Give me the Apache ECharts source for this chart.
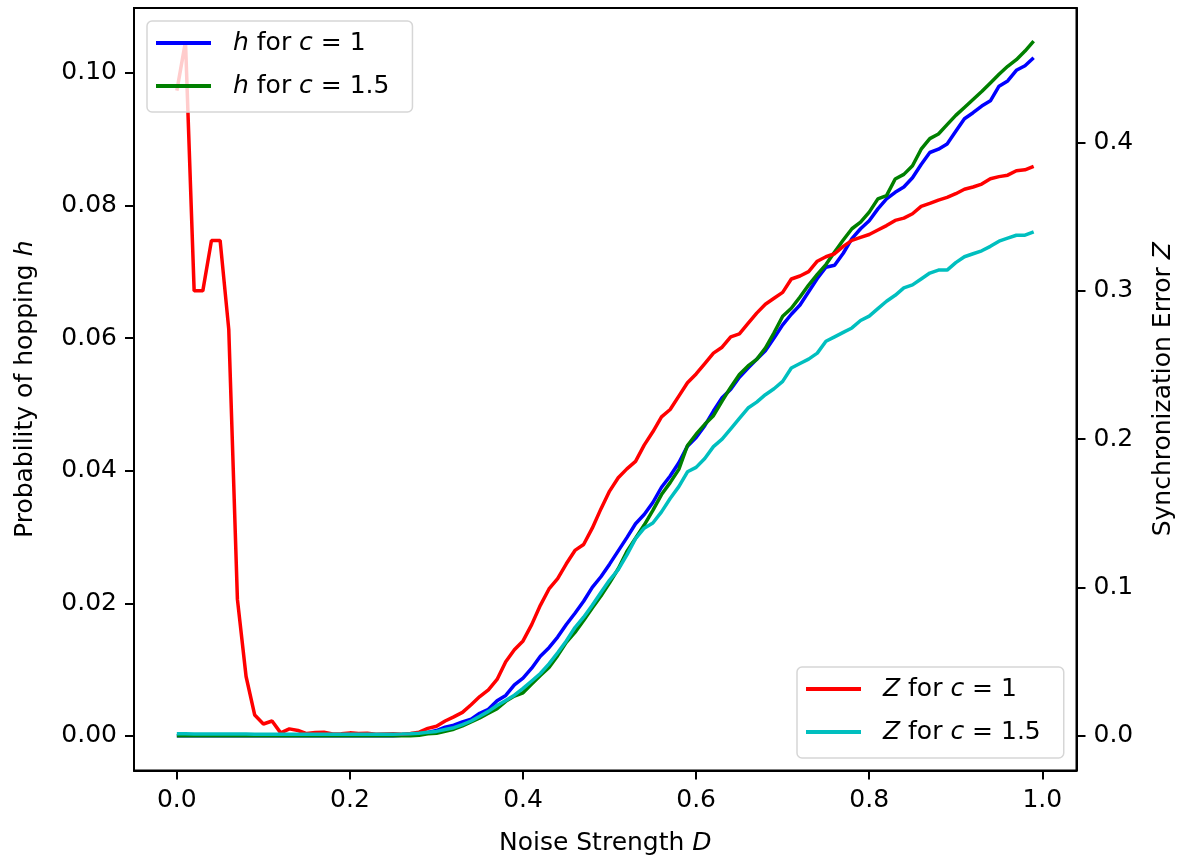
<!DOCTYPE html>
<html>
<head>
<meta charset="utf-8">
<script src="https://cdn.jsdelivr.net/npm/echarts@6/dist/echarts.min.js"></script>
<style>html,body{margin:0;padding:0;background:#fff;}#chart{width:1184px;height:861px;}</style>
</head>
<body>
<div id="chart"></div>
<script>
// Noise strength D (x values)
const noiseD = [0.00,0.01,0.02,0.03,0.04,0.05,0.06,0.07,0.08,0.09,
0.10,0.11,0.12,0.13,0.14,0.15,0.16,0.17,0.18,0.19,
0.20,0.21,0.22,0.23,0.24,0.25,0.26,0.27,0.28,0.29,
0.30,0.31,0.32,0.33,0.34,0.35,0.36,0.37,0.38,0.39,
0.40,0.41,0.42,0.43,0.44,0.45,0.46,0.47,0.48,0.49,
0.50,0.51,0.52,0.53,0.54,0.55,0.56,0.57,0.58,0.59,
0.60,0.61,0.62,0.63,0.64,0.65,0.66,0.67,0.68,0.69,
0.70,0.71,0.72,0.73,0.74,0.75,0.76,0.77,0.78,0.79,
0.80,0.81,0.82,0.83,0.84,0.85,0.86,0.87,0.88,0.89,
0.90,0.91,0.92,0.93,0.94,0.95,0.96,0.97,0.98,0.99];

// Probability of hopping h, c = 1 (left axis)
const hC1 = [0,0,0,0,0,0,0,0,0,0,
0,0,0,0,0,0,0,0,0,0,
0,0,0,0,0,0,0.0001,0.0002,0.0004,0.0005,
0.0008,0.0013,0.0016,0.0021,0.0025,0.0034,0.0040,0.0053,0.0061,0.0077,
0.0087,0.0102,0.0120,0.0133,0.0149,0.0168,0.0185,0.0203,0.0224,0.0240,
0.0259,0.0279,0.0299,0.0320,0.0334,0.0352,0.0375,0.0392,0.0412,0.0437,
0.0450,0.0468,0.0490,0.0510,0.0523,0.0541,0.0555,0.0568,0.0581,0.0600,
0.0620,0.0636,0.0650,0.0670,0.0690,0.0707,0.0710,0.0728,0.0750,0.0765,
0.0777,0.0795,0.0810,0.0820,0.0828,0.0842,0.0862,0.0880,0.0885,0.0893,
0.0912,0.0931,0.0940,0.0950,0.0958,0.0980,0.0988,0.1004,0.1011,0.1023];

// Probability of hopping h, c = 1.5 (left axis)
const hC15 = [0,0,0,0,0,0,0,0,0,0,
0,0,0,0,0,0,0,0,0,0,
0,0,0,0,0,0,0,0,0.0001,0.0003,
0.0004,0.0007,0.0010,0.0015,0.0021,0.0027,0.0034,0.0041,0.0052,0.0060,
0.0065,0.0078,0.0091,0.0103,0.0121,0.0141,0.0156,0.0174,0.0193,0.0211,
0.0231,0.0252,0.0278,0.0298,0.0318,0.0340,0.0364,0.0382,0.0402,0.0438,
0.0455,0.0470,0.0483,0.0505,0.0526,0.0545,0.0558,0.0568,0.0585,0.0608,
0.0633,0.0645,0.0662,0.0680,0.0696,0.0711,0.0730,0.0748,0.0765,0.0775,
0.0790,0.0810,0.0815,0.0840,0.0847,0.0860,0.0885,0.0901,0.0908,0.0922,
0.0936,0.0948,0.0960,0.0972,0.0985,0.0998,0.1010,0.1020,0.1033,0.1048];

// Synchronization error Z, c = 1 (right axis)
const zC1 = [0.435,0.468,0.300,0.300,0.334,0.334,0.274,0.092,0.040,0.014,
0.008,0.010,0.002,0.0047,0.0036,0.0015,0.0022,0.0024,0.0012,0.0014,
0.0020,0.0016,0.0018,0.0010,0.0012,0.0014,0.0011,0.0016,0.0025,0.0050,
0.0065,0.0100,0.0128,0.0158,0.0210,0.0265,0.0310,0.0380,0.0500,0.0580,
0.0640,0.0750,0.0880,0.0990,0.1060,0.1160,0.1250,0.1290,0.1400,0.1530,
0.1650,0.1740,0.1800,0.1850,0.1960,0.2050,0.2150,0.2200,0.2290,0.2380,
0.2440,0.2510,0.2580,0.2620,0.2690,0.2710,0.2780,0.2850,0.2910,0.2950,
0.2990,0.3080,0.3100,0.3130,0.3200,0.3230,0.3250,0.3300,0.3340,0.3360,
0.3380,0.3410,0.3440,0.3475,0.3490,0.3520,0.3570,0.3590,0.3612,0.3630,
0.3655,0.3685,0.3700,0.3720,0.3756,0.3770,0.3780,0.3810,0.3816,0.3840];

// Synchronization error Z, c = 1.5 (right axis)
const zC15 = [0.0014,0.0014,0.0013,0.0013,0.0013,0.0012,0.0012,0.0012,0.0012,0.0011,
0.0011,0.0011,0.0011,0.0010,0.0010,0.0010,0.0010,0.0010,0.0010,0.0010,
0.0010,0.0010,0.0010,0.0010,0.0010,0.0011,0.0012,0.0014,0.0018,0.0024,
0.0030,0.0043,0.0055,0.0076,0.0100,0.0132,0.0165,0.0204,0.0238,0.0274,
0.0320,0.0370,0.0420,0.0485,0.0560,0.0640,0.0730,0.0800,0.0880,0.0966,
0.1050,0.1120,0.1220,0.1330,0.1400,0.1435,0.1510,0.1600,0.1680,0.1780,
0.1810,0.1870,0.1950,0.2000,0.2070,0.2140,0.2210,0.2250,0.2300,0.2340,
0.2390,0.2480,0.2510,0.2540,0.2580,0.2660,0.2690,0.2720,0.2750,0.2800,
0.2830,0.2880,0.2930,0.2970,0.3020,0.3040,0.3080,0.3120,0.3140,0.3140,
0.3190,0.3230,0.3250,0.3270,0.3300,0.3335,0.3355,0.3375,0.3375,0.3397];

const xTicks = [0, 0.2, 0.4, 0.6, 0.8, 1.0];
const hTicks = [0, 0.02, 0.04, 0.06, 0.08, 0.10];
const zTicks = [0, 0.1, 0.2, 0.3, 0.4];

const seriesNames = ['h for c = 1', 'h for c = 1.5', 'Z for c = 1', 'Z for c = 1.5'];
const seriesColors = ['#0000ff', '#008000', '#ff0000', '#00bfbf'];

const FONT = 'DejaVu Sans';
const FS = 25;
const richItalic = { i: { fontStyle: 'italic', fontFamily: FONT, fontSize: FS, color: '#000', lineHeight: 30 }, n: { fontFamily: FONT, fontSize: FS, color: '#000', lineHeight: 30 } };

function pairs(ys) { return noiseD.map((d, k) => [d, ys[k]]); }

function legendFmt(name) {
  const parts = name.split(' for ');
  const sym = parts[0];
  const rest = parts[1].replace(/^c/, '');
  return '{i|' + sym + '}{n| for }{i|c}{n|' + rest + '}';
}

const axisCommon = {
  splitLine: { show: false },
  axisLine: { show: true, onZero: false, lineStyle: { color: '#000', width: 2 } },
  axisTick: { show: true, inside: false, length: 9, lineStyle: { color: '#000', width: 2 } },
};

const legendCommon = {
  orient: 'vertical',
  icon: 'rect',
  itemWidth: 55,
  itemHeight: 4,
  itemGap: 13,
  padding: [7, 23, 11, 9],
  backgroundColor: 'rgba(255,255,255,0.8)',
  borderColor: '#d6d6d6',
  borderWidth: 1.5,
  borderRadius: 5,
  formatter: legendFmt,
  textStyle: { fontFamily: FONT, fontSize: FS, color: '#000', lineHeight: 30, padding: [0, 0, 0, 17], rich: richItalic },
  selectedMode: false
};

const chart = echarts.init(document.getElementById('chart'), null, { renderer: 'canvas' });
chart.setOption({
  animation: false,
  backgroundColor: '#fff',
  grid: { left: 134, right: 107, top: 8, bottom: 89, show: true, borderColor: '#000', borderWidth: 2, containLabel: false },
  legend: [
    Object.assign({}, legendCommon, { left: 147, top: 21, data: [seriesNames[0], seriesNames[1]] }),
    Object.assign({}, legendCommon, { left: 797, top: 667, data: [seriesNames[2], seriesNames[3]] })
  ],
  xAxis: Object.assign({}, axisCommon, {
    type: 'value', min: -0.0495, max: 1.0395,
    axisTick: Object.assign({}, axisCommon.axisTick, { customValues: xTicks }),
    axisLabel: { customValues: xTicks, margin: 17, fontFamily: FONT, fontSize: FS, color: '#000', formatter: v => v.toFixed(1) },
    name: '{n|Noise Strength }{i|D}', nameLocation: 'middle', nameGap: 58,
    nameTextStyle: { fontFamily: FONT, fontSize: FS, color: '#000', rich: richItalic }
  }),
  yAxis: [
    Object.assign({}, axisCommon, {
      type: 'value', position: 'left', min: -0.00523, max: 0.1098,
      axisTick: Object.assign({}, axisCommon.axisTick, { customValues: hTicks }),
      axisLabel: { customValues: hTicks, margin: 17, fontFamily: FONT, fontSize: FS, color: '#000', formatter: v => v.toFixed(2) },
      name: '{n|Probability of hopping }{i|h}', nameLocation: 'middle', nameGap: 94, nameRotate: 90,
      nameTextStyle: { fontFamily: FONT, fontSize: FS, color: '#000', rich: richItalic }
    }),
    Object.assign({}, axisCommon, {
      type: 'value', position: 'right', min: -0.02337, max: 0.4907,
      axisTick: Object.assign({}, axisCommon.axisTick, { customValues: zTicks }),
      axisLabel: { customValues: zTicks, margin: 17, fontFamily: FONT, fontSize: FS, color: '#000', formatter: v => v.toFixed(1) },
      name: '{n|Synchronization Error }{i|Z}', nameLocation: 'middle', nameGap: 72, nameRotate: 90,
      nameTextStyle: { fontFamily: FONT, fontSize: FS, color: '#000', rich: richItalic }
    })
  ],
  series: [
    { name: seriesNames[0], type: 'line', yAxisIndex: 0, data: pairs(hC1) },
    { name: seriesNames[1], type: 'line', yAxisIndex: 0, data: pairs(hC15) },
    { name: seriesNames[2], type: 'line', yAxisIndex: 1, data: pairs(zC1) },
    { name: seriesNames[3], type: 'line', yAxisIndex: 1, data: pairs(zC15) }
  ].map((s, k) => Object.assign(s, {
    showSymbol: false, symbol: 'none', smooth: false,
    lineStyle: { color: seriesColors[k], width: 3.5 },
    itemStyle: { color: seriesColors[k] },
    emphasis: { disabled: true }
  }))
});
</script>
</body>
</html>
